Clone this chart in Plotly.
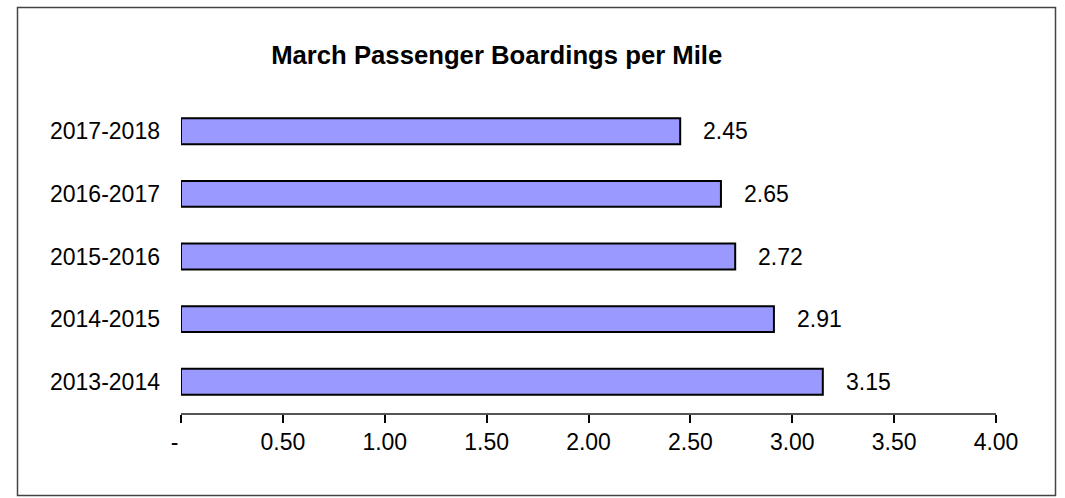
import plotly.graph_objects as go

years = ["2013-2014", "2014-2015", "2015-2016", "2016-2017", "2017-2018"]
values = [3.15, 2.91, 2.72, 2.65, 2.45]
x_tickvals = [0, 0.5, 1.0, 1.5, 2.0, 2.5, 3.0, 3.5, 4.0]
x_ticktext = ["-\u00a0\u00a0", "0.50", "1.00", "1.50", "2.00", "2.50", "3.00", "3.50", "4.00"]
title_text = "March Passenger Boardings per Mile"

FONT = "Liberation Sans, Arial, sans-serif"

fig = go.Figure()
fig.add_trace(go.Bar(
    x=values, y=years, orientation="h",
    marker=dict(color="#9999FF", line=dict(color="#000000", width=2)),
    showlegend=False, hoverinfo="x+y",
))

for v, yr in zip(values, years):
    fig.add_annotation(x=v, y=yr, text=f"{v:.2f}", xref="x", yref="y",
                       xanchor="left", yanchor="middle", xshift=21, showarrow=False,
                       font=dict(family=FONT, size=23, color="#000000"))

fig.update_layout(
    width=1065, height=498,
    margin=dict(l=181, r=69, t=100, b=85, pad=0),
    paper_bgcolor="white", plot_bgcolor="white",
    bargap=0.586,
    title=dict(text=f"<b>{title_text}</b>", x=0.4664, xref="container", xanchor="center",
               y=0.889, yref="container", yanchor="middle",
               font=dict(family=FONT, size=25.7, color="#000000")),
    xaxis=dict(range=[0, 4], tickvals=x_tickvals, ticktext=x_ticktext,
               showgrid=False, zeroline=False, showline=True, linecolor="#555555", linewidth=1.5,
               ticks="outside", ticklen=8, tickwidth=1.5, tickcolor="#000000",
               tickfont=dict(family=FONT, size=23, color="#000000"), ticklabelstandoff=0,
               fixedrange=True),
    xaxis2=dict(range=[0, 4], overlaying="x", anchor="y", side="bottom",
                tickvals=x_tickvals, showticklabels=False, showgrid=False, zeroline=False,
                showline=False, ticks="inside", ticklen=6, tickwidth=1.5, tickcolor="#000000"),
    yaxis=dict(showgrid=False, zeroline=False, showline=False, ticks="",
               tickfont=dict(family=FONT, size=23, color="#000000"), ticklabelstandoff=20,
               fixedrange=True),
    shapes=[dict(type="rect", xref="paper", yref="paper",
                 x0=(17.5 - 181) / 815, x1=(1055.5 - 181) / 815,
                 y0=(413 - 495.5) / 313, y1=(413 - 7.5) / 313,
                 line=dict(color="#444444", width=1.5), fillcolor="rgba(0,0,0,0)")],
)

fig.write_html("out.html")
